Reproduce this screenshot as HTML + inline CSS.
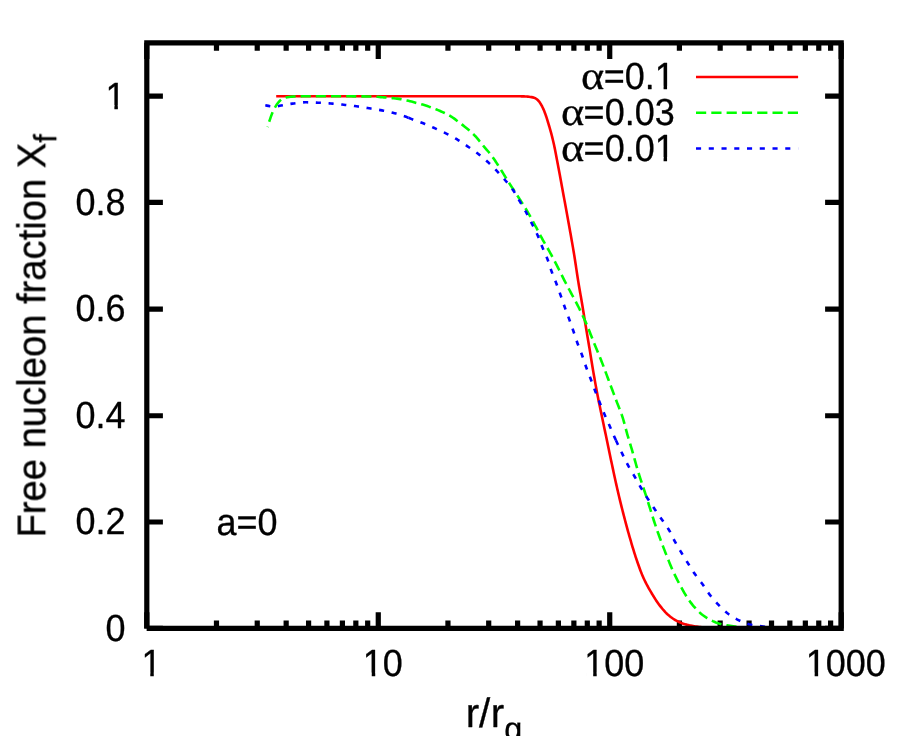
<!DOCTYPE html>
<html><head><meta charset="utf-8"><title>Free nucleon fraction</title>
<style>html,body{margin:0;padding:0;background:#fff;overflow:hidden}svg{display:block}text{font-family:"Liberation Sans",sans-serif;fill:#000}</style>
</head><body>
<svg width="900" height="736" viewBox="0 0 900 736">
<rect width="900" height="736" fill="#fff"/>
<g stroke="#000" stroke-width="5.2" stroke-linecap="butt" fill="none">
<path d="M146.80,628.40h16.1M841.20,628.40h-16.1"/>
<path d="M146.80,522.00h16.1M841.20,522.00h-16.1"/>
<path d="M146.80,415.75h16.1M841.20,415.75h-16.1"/>
<path d="M146.80,309.10h16.1M841.20,309.10h-16.1"/>
<path d="M146.80,202.30h16.1M841.20,202.30h-16.1"/>
<path d="M146.80,96.20h16.1M841.20,96.20h-16.1"/>
<path d="M146.80,628.40v-16.1M146.80,42.85v16.1"/>
<path d="M216.48,628.40v-8.0M216.48,42.85v8.0"/>
<path d="M257.24,628.40v-8.0M257.24,42.85v8.0"/>
<path d="M286.16,628.40v-8.0M286.16,42.85v8.0"/>
<path d="M308.59,628.40v-8.0M308.59,42.85v8.0"/>
<path d="M326.92,628.40v-8.0M326.92,42.85v8.0"/>
<path d="M342.41,628.40v-8.0M342.41,42.85v8.0"/>
<path d="M355.84,628.40v-8.0M355.84,42.85v8.0"/>
<path d="M367.68,628.40v-8.0M367.68,42.85v8.0"/>
<path d="M378.27,628.40v-16.1M378.27,42.85v16.1"/>
<path d="M447.95,628.40v-8.0M447.95,42.85v8.0"/>
<path d="M488.70,628.40v-8.0M488.70,42.85v8.0"/>
<path d="M517.62,628.40v-8.0M517.62,42.85v8.0"/>
<path d="M540.05,628.40v-8.0M540.05,42.85v8.0"/>
<path d="M558.38,628.40v-8.0M558.38,42.85v8.0"/>
<path d="M573.88,628.40v-8.0M573.88,42.85v8.0"/>
<path d="M587.30,628.40v-8.0M587.30,42.85v8.0"/>
<path d="M599.14,628.40v-8.0M599.14,42.85v8.0"/>
<path d="M609.73,628.40v-16.1M609.73,42.85v16.1"/>
<path d="M679.41,628.40v-8.0M679.41,42.85v8.0"/>
<path d="M720.17,628.40v-8.0M720.17,42.85v8.0"/>
<path d="M749.09,628.40v-8.0M749.09,42.85v8.0"/>
<path d="M771.52,628.40v-8.0M771.52,42.85v8.0"/>
<path d="M789.85,628.40v-8.0M789.85,42.85v8.0"/>
<path d="M805.35,628.40v-8.0M805.35,42.85v8.0"/>
<path d="M818.77,628.40v-8.0M818.77,42.85v8.0"/>
<path d="M830.61,628.40v-8.0M830.61,42.85v8.0"/>
<path d="M841.20,628.40v-16.1M841.20,42.85v16.1"/>
</g>
<g fill="none" stroke-width="2.6" stroke-linejoin="round">
<path stroke="#ff0000" d="M276.20,96.20 L500.00,96.20 L500.00,96.20 L501.26,96.20 L502.53,96.20 L503.79,96.20 L505.06,96.20 L506.32,96.20 L507.58,96.21 L508.85,96.21 L510.11,96.22 L511.37,96.23 L512.64,96.23 L513.90,96.24 L515.17,96.25 L516.43,96.26 L517.69,96.27 L518.96,96.29 L520.22,96.30 L521.48,96.33 L522.75,96.36 L524.01,96.41 L525.27,96.46 L526.53,96.53 L527.79,96.64 L529.05,96.78 L530.30,96.94 L531.54,97.13 L532.78,97.38 L534.01,97.71 L535.09,98.13 L536.13,98.76 L537.17,99.57 L538.20,100.50 L538.94,101.30 L539.64,102.25 L540.35,103.35 L541.06,104.54 L541.72,105.71 L542.24,106.70 L542.76,107.76 L543.28,108.89 L543.80,110.09 L544.32,111.34 L544.84,112.65 L545.25,113.73 L545.64,114.83 L546.03,115.99 L546.43,117.20 L546.82,118.44 L547.21,119.70 L547.60,120.98 L548.00,122.26 L548.36,123.44 L548.71,124.59 L549.06,125.75 L549.41,126.92 L549.76,128.11 L550.11,129.33 L550.47,130.57 L550.82,131.83 L551.17,133.13 L551.50,134.38 L551.79,135.51 L552.08,136.65 L552.37,137.82 L552.66,139.02 L552.95,140.23 L553.25,141.47 L553.54,142.74 L553.83,144.02 L554.12,145.34 L554.41,146.68 L554.66,147.88 L554.90,149.05 L555.14,150.25 L555.38,151.48 L555.62,152.74 L555.86,154.01 L556.10,155.29 L556.34,156.57 L556.57,157.85 L556.81,159.12 L557.05,160.37 L557.29,161.60 L557.52,162.83 L557.76,164.07 L558.00,165.30 L558.23,166.54 L558.47,167.77 L558.71,169.01 L558.94,170.26 L559.18,171.50 L559.42,172.75 L559.65,174.01 L559.89,175.26 L560.11,176.48 L560.34,177.72 L560.57,178.95 L560.80,180.20 L561.03,181.44 L561.26,182.69 L561.48,183.94 L561.71,185.19 L561.94,186.44 L562.17,187.69 L562.40,188.94 L562.62,190.18 L562.85,191.42 L563.08,192.66 L563.31,193.90 L563.53,195.15 L563.76,196.39 L563.99,197.63 L564.22,198.87 L564.44,200.12 L564.67,201.36 L564.90,202.61 L565.13,203.85 L565.35,205.10 L565.58,206.34 L565.81,207.59 L566.03,208.82 L566.26,210.06 L566.49,211.29 L566.71,212.53 L566.94,213.76 L567.16,214.99 L567.39,216.23 L567.62,217.46 L567.84,218.70 L568.07,219.94 L568.29,221.18 L568.52,222.43 L568.75,223.68 L568.97,224.93 L569.20,226.19 L569.42,227.45 L569.65,228.72 L569.87,229.95 L570.08,231.16 L570.30,232.37 L570.51,233.58 L570.73,234.80 L570.95,236.02 L571.16,237.23 L571.38,238.45 L571.59,239.68 L571.81,240.91 L572.02,242.14 L572.24,243.38 L572.45,244.62 L572.67,245.88 L572.89,247.13 L573.10,248.40 L573.32,249.67 L573.53,250.96 L573.75,252.25 L573.96,253.55 L574.18,254.87 L574.37,256.07 L574.56,257.27 L574.76,258.49 L574.95,259.72 L575.14,260.97 L575.33,262.23 L575.52,263.49 L575.72,264.77 L575.91,266.05 L576.10,267.33 L576.29,268.61 L576.48,269.90 L576.67,271.18 L576.87,272.46 L577.06,273.73 L577.25,275.00 L577.44,276.25 L577.63,277.50 L577.83,278.73 L578.02,279.94 L578.21,281.14 L578.41,282.39 L578.63,283.69 L578.84,284.97 L579.05,286.23 L579.27,287.48 L579.48,288.73 L579.70,289.96 L579.91,291.19 L580.12,292.41 L580.34,293.63 L580.55,294.85 L580.76,296.07 L580.98,297.29 L581.19,298.51 L581.41,299.74 L581.62,300.98 L581.83,302.23 L582.05,303.49 L582.26,304.77 L582.47,306.00 L582.67,307.23 L582.87,308.47 L583.07,309.72 L583.27,310.97 L583.47,312.23 L583.68,313.49 L583.88,314.75 L584.08,316.01 L584.28,317.27 L584.48,318.52 L584.68,319.77 L584.89,321.01 L585.09,322.25 L585.30,323.52 L585.51,324.78 L585.72,326.03 L585.93,327.28 L586.14,328.53 L586.35,329.78 L586.56,331.02 L586.77,332.25 L586.98,333.49 L587.18,334.73 L587.39,335.96 L587.60,337.20 L587.81,338.44 L588.02,339.68 L588.23,340.92 L588.44,342.16 L588.65,343.41 L588.86,344.66 L589.07,345.91 L589.28,347.16 L589.48,348.40 L589.69,349.65 L589.89,350.90 L590.10,352.16 L590.30,353.42 L590.50,354.69 L590.71,355.96 L590.91,357.22 L591.12,358.49 L591.32,359.76 L591.53,361.02 L591.73,362.28 L591.94,363.53 L592.14,364.78 L592.34,366.03 L592.55,367.26 L592.75,368.48 L592.96,369.70 L593.16,370.90 L593.37,372.13 L593.60,373.43 L593.82,374.72 L594.05,376.01 L594.27,377.30 L594.50,378.58 L594.72,379.85 L594.94,381.12 L595.17,382.38 L595.39,383.63 L595.62,384.88 L595.84,386.12 L596.06,387.35 L596.29,388.57 L596.51,389.78 L596.74,390.98 L596.96,392.17 L597.19,393.36 L597.41,394.53 L597.65,395.78 L597.91,397.08 L598.16,398.36 L598.41,399.63 L598.67,400.89 L598.92,402.13 L599.18,403.37 L599.43,404.59 L599.68,405.81 L599.94,407.03 L600.19,408.24 L600.45,409.45 L600.70,410.66 L600.95,411.88 L601.21,413.09 L601.46,414.31 L601.72,415.56 L601.98,416.80 L602.24,418.05 L602.50,419.29 L602.76,420.52 L603.02,421.76 L603.28,422.99 L603.54,424.23 L603.80,425.46 L604.05,426.69 L604.31,427.92 L604.57,429.16 L604.83,430.39 L605.09,431.62 L605.35,432.86 L605.61,434.10 L605.87,435.34 L606.13,436.57 L606.39,437.81 L606.64,439.05 L606.90,440.30 L607.16,441.54 L607.42,442.79 L607.68,444.04 L607.93,445.28 L608.19,446.53 L608.45,447.78 L608.71,449.03 L608.97,450.27 L609.22,451.52 L609.48,452.76 L609.74,454.00 L610.00,455.24 L610.26,456.47 L610.51,457.70 L610.77,458.93 L611.03,460.15 L611.29,461.36 L611.54,462.57 L611.81,463.81 L612.08,465.07 L612.35,466.34 L612.62,467.61 L612.89,468.88 L613.17,470.15 L613.44,471.41 L613.71,472.68 L613.98,473.94 L614.25,475.20 L614.52,476.45 L614.80,477.70 L615.07,478.95 L615.34,480.19 L615.61,481.43 L615.88,482.66 L616.15,483.89 L616.42,485.10 L616.70,486.32 L616.97,487.52 L617.24,488.71 L617.51,489.90 L617.78,491.08 L618.05,492.25 L618.33,493.42 L618.64,494.72 L618.94,496.02 L619.25,497.30 L619.56,498.58 L619.87,499.85 L620.17,501.11 L620.48,502.37 L620.79,503.62 L621.10,504.86 L621.40,506.09 L621.71,507.32 L622.02,508.54 L622.33,509.76 L622.63,510.97 L622.94,512.17 L623.25,513.37 L623.56,514.57 L623.86,515.75 L624.17,516.94 L624.48,518.12 L624.79,519.29 L625.09,520.46 L625.40,521.63 L625.73,522.86 L626.06,524.13 L626.40,525.38 L626.74,526.63 L627.07,527.88 L627.41,529.11 L627.75,530.33 L628.08,531.55 L628.42,532.76 L628.76,533.96 L629.09,535.14 L629.43,536.32 L629.76,537.49 L630.11,538.68 L630.48,539.96 L630.86,541.23 L631.23,542.50 L631.60,543.77 L631.98,545.02 L632.35,546.27 L632.72,547.51 L633.09,548.74 L633.47,549.97 L633.84,551.18 L634.21,552.38 L634.59,553.56 L634.96,554.73 L635.33,555.89 L635.70,557.03 L636.08,558.16 L636.45,559.27 L636.85,560.43 L637.29,561.72 L637.74,563.01 L638.18,564.29 L638.63,565.55 L639.08,566.80 L639.52,568.03 L639.97,569.24 L640.41,570.44 L640.86,571.60 L641.31,572.75 L641.75,573.87 L642.20,574.95 L642.64,576.01 L643.09,577.03 L643.61,578.19 L644.21,579.47 L644.80,580.71 L645.39,581.92 L645.99,583.09 L646.58,584.24 L647.17,585.36 L647.77,586.46 L648.36,587.54 L648.95,588.60 L649.55,589.64 L650.14,590.66 L650.73,591.67 L651.33,592.68 L651.96,593.73 L652.66,594.89 L653.36,596.03 L654.06,597.16 L654.76,598.27 L655.46,599.36 L656.15,600.42 L656.85,601.46 L657.55,602.48 L658.25,603.46 L658.95,604.42 L659.65,605.35 L660.42,606.34 L661.27,607.40 L662.12,608.45 L662.96,609.46 L663.81,610.45 L664.66,611.41 L665.50,612.32 L666.35,613.19 L667.20,614.01 L668.04,614.78 L669.02,615.61 L670.06,616.45 L671.10,617.25 L672.14,618.00 L673.18,618.72 L674.22,619.39 L675.26,620.01 L676.30,620.59 L677.42,621.17 L678.59,621.74 L679.76,622.27 L680.93,622.78 L682.10,623.24 L683.27,623.66 L684.44,624.04 L685.64,624.38 L686.88,624.70 L688.12,625.00 L689.36,625.29 L690.60,625.55 L691.83,625.80 L693.07,626.03 L694.31,626.24 L695.55,626.43 L696.79,626.61 L698.04,626.78 L699.30,626.95 L700.56,627.10 L701.81,627.25 L703.07,627.37 L704.33,627.48 L705.58,627.57 L706.84,627.65 L708.11,627.72 L709.37,627.79 L710.63,627.86 L711.90,627.92 L713.16,627.98 L714.42,628.03 L715.69,628.08 L716.95,628.12 L718.21,628.15 L719.47,628.18 L720.74,628.19 L722.00,628.20"/>
<path stroke="#00ff00" stroke-dasharray="10.11 5.05" stroke-dashoffset="9.61" d="M267.50,127.00 L268.00,125.39 L268.50,123.82 L269.00,122.29 L269.53,120.71 L270.09,119.06 L270.64,117.43 L271.20,115.86 L271.75,114.36 L272.30,112.97 L272.97,111.45 L273.70,109.92 L274.44,108.52 L275.20,107.14 L276.07,105.64 L276.94,104.27 L277.90,102.99 L279.02,101.65 L280.15,100.52 L281.42,99.58 L282.88,98.68 L284.35,97.96 L285.82,97.50 L287.44,97.21 L289.06,97.00 L290.69,96.82 L292.32,96.64 L293.96,96.49 L295.59,96.40 L297.23,96.38 L298.87,96.35 L300.51,96.33 L302.15,96.32 L303.78,96.31 L305.42,96.30 L307.06,96.30 L308.70,96.30 L310.34,96.30 L311.98,96.30 L313.62,96.30 L315.26,96.30 L316.90,96.30 L318.54,96.30 L320.18,96.30 L321.82,96.30 L323.46,96.30 L325.10,96.30 L326.73,96.30 L328.37,96.30 L330.01,96.30 L331.65,96.30 L333.29,96.30 L334.93,96.30 L336.57,96.30 L338.21,96.30 L339.85,96.30 L341.49,96.30 L343.13,96.30 L344.77,96.30 L346.41,96.31 L348.05,96.31 L349.68,96.32 L351.32,96.32 L352.96,96.33 L354.60,96.34 L356.24,96.35 L357.88,96.36 L359.52,96.37 L361.16,96.39 L362.80,96.40 L364.44,96.42 L366.08,96.43 L367.72,96.45 L369.36,96.47 L371.00,96.49 L372.63,96.52 L374.27,96.59 L375.90,96.68 L377.54,96.80 L379.17,96.94 L380.81,97.09 L382.44,97.23 L384.08,97.36 L385.71,97.50 L387.34,97.63 L388.97,97.78 L390.60,97.93 L392.23,98.09 L393.87,98.26 L395.50,98.44 L397.13,98.64 L398.75,98.86 L400.36,99.12 L401.97,99.42 L403.57,99.74 L405.18,100.09 L406.79,100.46 L408.40,100.82 L409.98,101.20 L411.57,101.61 L413.15,102.03 L414.74,102.47 L416.32,102.90 L417.91,103.32 L419.49,103.74 L421.07,104.16 L422.65,104.60 L424.22,105.06 L425.79,105.55 L427.33,106.07 L428.87,106.63 L430.41,107.20 L431.95,107.78 L433.49,108.37 L435.01,108.96 L436.53,109.55 L438.05,110.15 L439.57,110.78 L441.09,111.43 L442.58,112.09 L444.05,112.76 L445.52,113.45 L446.99,114.17 L448.46,114.94 L449.93,115.76 L451.27,116.58 L452.61,117.48 L453.94,118.43 L455.28,119.42 L456.61,120.43 L457.95,121.44 L459.25,122.41 L460.54,123.39 L461.83,124.38 L463.12,125.39 L464.41,126.41 L465.70,127.46 L466.97,128.53 L468.19,129.55 L469.40,130.59 L470.62,131.65 L471.83,132.74 L473.05,133.87 L474.27,135.06 L475.42,136.24 L476.46,137.39 L477.51,138.62 L478.56,139.89 L479.60,141.20 L480.65,142.52 L481.70,143.83 L482.75,145.13 L483.80,146.39 L484.85,147.62 L485.90,148.83 L486.96,150.04 L488.01,151.26 L489.07,152.50 L490.12,153.78 L491.18,155.11 L492.16,156.41 L493.06,157.68 L493.97,158.98 L494.88,160.33 L495.78,161.71 L496.69,163.11 L497.60,164.53 L498.50,165.96 L499.41,167.38 L500.30,168.77 L501.17,170.14 L502.03,171.53 L502.89,172.93 L503.76,174.34 L504.62,175.76 L505.48,177.17 L506.34,178.57 L507.21,179.97 L508.07,181.34 L508.96,182.73 L509.86,184.12 L510.75,185.49 L511.65,186.85 L512.55,188.21 L513.45,189.57 L514.34,190.93 L515.24,192.29 L516.14,193.67 L517.04,195.05 L517.91,196.41 L518.78,197.76 L519.65,199.12 L520.53,200.47 L521.40,201.83 L522.27,203.20 L523.14,204.58 L524.02,205.97 L524.89,207.37 L525.76,208.80 L526.63,210.24 L527.51,211.71 L528.30,213.07 L529.09,214.45 L529.89,215.86 L530.68,217.29 L531.47,218.73 L532.27,220.18 L533.06,221.64 L533.85,223.10 L534.65,224.57 L535.44,226.04 L536.22,227.48 L536.99,228.92 L537.76,230.38 L538.53,231.84 L539.30,233.31 L540.07,234.78 L540.84,236.24 L541.61,237.69 L542.38,239.12 L543.15,240.53 L543.96,241.98 L544.77,243.41 L545.59,244.82 L546.40,246.22 L547.22,247.61 L548.03,249.02 L548.84,250.44 L549.66,251.89 L550.45,253.31 L551.21,254.72 L551.98,256.14 L552.74,257.58 L553.51,259.02 L554.27,260.48 L555.04,261.95 L555.80,263.42 L556.57,264.90 L557.34,266.38 L558.08,267.83 L558.82,269.28 L559.55,270.75 L560.29,272.23 L561.03,273.71 L561.77,275.19 L562.50,276.66 L563.24,278.13 L563.98,279.57 L564.74,281.04 L565.50,282.51 L566.27,283.97 L567.03,285.42 L567.80,286.87 L568.56,288.31 L569.33,289.75 L570.10,291.19 L570.86,292.62 L571.63,294.06 L572.40,295.51 L573.17,296.93 L573.94,298.35 L574.71,299.77 L575.49,301.20 L576.26,302.64 L577.03,304.11 L577.80,305.61 L578.52,307.04 L579.22,308.44 L579.92,309.86 L580.62,311.30 L581.32,312.75 L582.03,314.22 L582.73,315.71 L583.43,317.22 L584.13,318.75 L584.83,320.31 L585.53,321.88 L586.18,323.36 L586.79,324.80 L587.40,326.27 L588.02,327.76 L588.63,329.27 L589.24,330.80 L589.86,332.35 L590.47,333.90 L591.09,335.46 L591.70,337.02 L592.31,338.58 L592.93,340.13 L593.54,341.67 L594.16,343.19 L594.77,344.71 L595.39,346.22 L596.01,347.72 L596.63,349.22 L597.25,350.72 L597.87,352.22 L598.49,353.72 L599.11,355.23 L599.72,356.75 L600.34,358.28 L600.96,359.83 L601.58,361.40 L602.16,362.89 L602.74,364.39 L603.32,365.90 L603.89,367.42 L604.47,368.96 L605.04,370.50 L605.62,372.05 L606.19,373.60 L606.77,375.16 L607.34,376.71 L607.92,378.27 L608.50,379.82 L609.07,381.36 L609.65,382.89 L610.22,384.43 L610.80,385.97 L611.37,387.50 L611.95,389.04 L612.53,390.58 L613.10,392.12 L613.68,393.65 L614.25,395.19 L614.83,396.72 L615.40,398.26 L615.98,399.79 L616.55,401.31 L617.13,402.84 L617.72,404.33 L618.30,405.79 L618.88,407.24 L619.46,408.70 L620.04,410.18 L620.62,411.69 L621.20,413.25 L621.54,414.20"/>
<path stroke="#00ff00" stroke-dasharray="10.20 5.10" d="M621.54,414.20 L621.78,414.88 L622.36,416.59 L622.84,418.05 L623.27,419.50 L623.71,421.02 L624.15,422.59 L624.59,424.21 L625.03,425.86 L625.47,427.52 L625.91,429.18 L626.35,430.83 L626.78,432.45 L627.22,434.03 L627.67,435.60 L628.14,437.20 L628.61,438.78 L629.08,440.34 L629.55,441.89 L630.02,443.44 L630.49,444.98 L630.97,446.53 L631.44,448.09 L631.91,449.67 L632.38,451.27 L632.83,452.83 L633.27,454.40 L633.71,455.99 L634.15,457.59 L634.59,459.20 L635.04,460.81 L635.48,462.41 L635.92,463.99 L636.36,465.54 L636.81,467.08 L637.30,468.71 L637.78,470.32 L638.26,471.90 L638.74,473.47 L639.23,475.03 L639.71,476.57 L640.19,478.10 L640.68,479.61 L641.19,481.19 L641.70,482.77 L642.22,484.33 L642.74,485.87 L643.26,487.40 L643.78,488.93 L644.30,490.46 L644.81,492.01 L645.33,493.57 L645.85,495.15 L646.34,496.68 L646.84,498.23 L647.33,499.79 L647.82,501.36 L648.32,502.94 L648.81,504.52 L649.30,506.09 L649.80,507.66 L650.29,509.23 L650.79,510.80 L651.28,512.39 L651.78,513.97 L652.27,515.56 L652.77,517.13 L653.26,518.69 L653.76,520.24 L654.25,521.76 L654.77,523.31 L655.31,524.92 L655.85,526.52 L656.39,528.09 L656.93,529.66 L657.47,531.21 L658.00,532.74 L658.54,534.26 L659.08,535.77 L659.62,537.26 L660.17,538.78 L660.76,540.37 L661.35,541.95 L661.93,543.52 L662.52,545.07 L663.11,546.61 L663.69,548.13 L664.28,549.65 L664.86,551.15 L665.45,552.65 L666.04,554.13 L666.62,555.60 L667.24,557.17 L667.87,558.74 L668.50,560.32 L669.13,561.88 L669.76,563.43 L670.39,564.96 L671.02,566.47 L671.64,567.96 L672.27,569.41 L672.90,570.82 L673.57,572.28 L674.31,573.85 L675.04,575.39 L675.78,576.89 L676.52,578.36 L677.26,579.80 L677.99,581.22 L678.73,582.63 L679.47,584.01 L680.23,585.42 L681.04,586.93 L681.86,588.43 L682.67,589.91 L683.49,591.36 L684.30,592.78 L685.12,594.16 L685.93,595.49 L686.75,596.78 L687.72,598.25 L688.68,599.67 L689.64,601.06 L690.60,602.39 L691.57,603.66 L692.53,604.88 L693.53,606.07 L694.69,607.39 L695.85,608.66 L697.01,609.89 L698.17,611.05 L699.33,612.15 L700.48,613.19 L701.64,614.16 L703.00,615.21 L704.37,616.21 L705.73,617.16 L707.10,618.04 L708.47,618.86 L709.83,619.61 L711.32,620.38 L712.82,621.12 L714.33,621.80 L715.83,622.43 L717.34,622.99 L718.87,623.47 L720.47,623.92 L722.06,624.33 L723.66,624.70 L725.25,625.03 L726.85,625.33 L728.47,625.60 L730.10,625.85 L731.72,626.07 L733.34,626.29 L734.97,626.49 L736.59,626.69 L738.22,626.88 L739.85,627.07 L741.48,627.25 L743.11,627.43 L744.74,627.59 L746.37,627.75 L748.00,627.90"/>
<path stroke="#0000ff" stroke-dasharray="5.10 7.65" d="M265.30,105.30 L266.88,105.60 L268.47,105.89 L270.05,106.20 L271.64,106.46 L273.24,106.61 L274.85,106.70 L276.44,106.57 L278.02,106.23 L279.60,105.84 L281.19,105.54 L282.77,105.25 L284.36,104.95 L285.95,104.66 L287.54,104.38 L289.13,104.11 L290.71,103.86 L292.30,103.63 L293.90,103.43 L295.50,103.22 L297.10,103.01 L298.71,102.81 L300.31,102.63 L301.91,102.47 L303.52,102.36 L305.12,102.31 L306.73,102.30 L308.34,102.33 L309.95,102.36 L311.56,102.42 L313.17,102.48 L314.77,102.54 L316.38,102.62 L317.99,102.69 L319.60,102.76 L321.21,102.84 L322.82,102.94 L324.42,103.04 L326.03,103.15 L327.64,103.26 L329.25,103.38 L330.85,103.50 L332.46,103.63 L334.06,103.77 L335.66,103.92 L337.27,104.08 L338.87,104.24 L340.47,104.40 L342.07,104.57 L343.68,104.74 L345.28,104.92 L346.88,105.09 L348.48,105.27 L350.08,105.46 L351.67,105.65 L353.27,105.85 L354.87,106.06 L356.47,106.27 L358.06,106.49 L359.65,106.73 L361.24,106.98 L362.83,107.24 L364.43,107.51 L366.02,107.77 L367.61,108.04 L369.20,108.30 L370.79,108.55 L372.37,108.81 L373.96,109.05 L375.55,109.31 L377.14,109.56 L378.73,109.83 L380.32,110.10 L381.91,110.39 L383.49,110.69 L385.06,111.00 L386.63,111.33 L388.20,111.67 L389.77,112.02 L391.34,112.38 L392.92,112.77 L394.49,113.17 L396.04,113.58 L397.57,114.02 L399.11,114.48 L400.65,114.97 L402.19,115.48 L403.72,116.00 L405.24,116.53 L406.74,117.09 L408.24,117.69 L408.50,117.79"/>
<path stroke="#0000ff" stroke-dasharray="5.10 7.65" d="M408.50,117.79 L409.74,118.29 L411.24,118.90 L412.74,119.49 L414.25,120.05 L415.77,120.59 L417.29,121.12 L418.80,121.65 L420.32,122.19 L421.84,122.75 L423.33,123.33 L424.81,123.93 L426.29,124.54 L427.77,125.17 L429.26,125.82 L430.74,126.47 L432.22,127.12 L433.70,127.78 L435.17,128.43 L436.63,129.07 L438.10,129.72 L439.56,130.38 L441.03,131.04 L442.49,131.71 L443.96,132.40 L445.42,133.11 L446.85,133.83 L448.27,134.55 L449.69,135.28 L451.10,136.04 L452.52,136.81 L453.93,137.60 L455.35,138.41 L456.76,139.24 L458.11,140.06 L459.46,140.90 L460.80,141.78 L462.15,142.67 L463.49,143.57 L464.84,144.49 L466.18,145.41 L467.53,146.32 L468.85,147.21 L470.17,148.10 L471.49,149.00 L472.81,149.91 L474.13,150.83 L475.45,151.77 L476.77,152.75 L478.05,153.72 L479.28,154.69 L480.51,155.68 L481.75,156.69 L482.98,157.72 L484.21,158.78 L485.45,159.86 L486.68,160.96 L487.88,162.05 L489.03,163.12 L490.17,164.21 L491.32,165.32 L492.46,166.46 L493.61,167.61 L494.75,168.78 L495.90,169.96 L497.02,171.14 L498.10,172.28 L499.18,173.44 L500.26,174.62 L501.34,175.81 L502.42,177.02 L503.50,178.25 L504.58,179.50 L505.61,180.72 L506.62,181.90 L507.62,183.08 L508.63,184.29 L509.64,185.52 L510.64,186.80 L511.65,188.12 L512.65,189.51 L513.54,190.80 L514.37,192.07 L515.20,193.41 L516.02,194.80 L516.85,196.23 L517.68,197.67 L518.50,199.12 L519.33,200.55 L520.15,201.96 L520.96,203.33 L521.77,204.69 L522.58,206.05 L523.39,207.43 L524.19,208.83 L525.00,210.26 L525.81,211.72 L526.54,213.08 L527.27,214.48 L528.00,215.90 L528.73,217.35 L529.46,218.81 L530.19,220.27 L530.92,221.74 L531.65,223.20 L532.37,224.62 L533.08,226.01 L533.80,227.40 L534.51,228.80 L535.23,230.22 L535.94,231.67 L536.66,233.17 L537.37,234.72 L537.99,236.13 L538.59,237.57 L539.19,239.06 L539.79,240.59 L540.39,242.14 L540.98,243.69 L541.58,245.22 L542.18,246.72 L542.80,248.21 L543.43,249.68 L544.06,251.11 L544.69,252.53 L545.33,253.95 L545.96,255.41 L546.59,256.91 L547.23,258.49 L547.79,259.98 L548.30,261.44 L548.82,262.97 L549.33,264.55 L549.84,266.15 L550.36,267.75 L550.87,269.31 L551.38,270.81 L551.92,272.31 L552.52,273.87 L553.11,275.37 L553.71,276.83 L554.30,278.28 L554.89,279.73 L555.49,281.21 L556.08,282.73 L556.64,284.22 L557.19,285.69 L557.74,287.18 L558.28,288.69 L558.83,290.22 L559.37,291.75 L559.92,293.30 L560.46,294.84 L561.00,296.37 L561.53,297.89 L562.05,299.42 L562.58,300.96 L563.11,302.50 L563.63,304.03 L564.16,305.54 L564.70,307.05 L565.26,308.59 L565.82,310.10 L566.37,311.60 L566.93,313.09 L567.49,314.58 L568.05,316.07 L568.61,317.58 L569.17,319.11 L569.71,320.61 L570.24,322.10 L570.78,323.61 L571.32,325.12 L571.85,326.64 L572.39,328.18 L572.93,329.72 L573.46,331.26 L573.97,332.78 L574.48,334.32 L575.00,335.88 L575.51,337.45 L576.02,339.00 L576.53,340.53 L577.05,342.02 L577.57,343.49 L578.15,345.05 L578.72,346.56 L579.30,348.04 L579.88,349.50 L580.46,350.96 L581.04,352.44 L581.62,353.96 L582.18,355.49 L582.70,356.97 L583.22,358.50 L583.75,360.05 L584.27,361.61 L584.80,363.17 L585.32,364.71 L585.84,366.22 L586.37,367.70 L586.95,369.26 L587.53,370.78 L588.11,372.28 L588.69,373.76 L589.26,375.23 L589.84,376.71 L590.42,378.21 L590.99,379.71 L591.55,381.21 L592.12,382.73 L592.68,384.25 L593.24,385.78 L593.80,387.30 L594.36,388.81 L594.92,390.31 L595.49,391.81 L596.08,393.33 L596.67,394.85 L597.26,396.36 L597.84,397.86 L598.43,399.35 L599.02,400.83 L599.60,402.31 L600.20,403.80 L600.81,405.32 L601.41,406.84 L602.02,408.35 L602.63,409.85 L603.24,411.33 L603.84,412.80 L604.45,414.25 L605.09,415.75 L605.75,417.25 L606.41,418.72 L607.06,420.18 L607.72,421.63 L608.38,423.08 L609.03,424.53 L609.69,426.00 L610.34,427.47 L610.98,428.95 L611.63,430.43 L612.27,431.93 L612.91,433.43 L613.56,434.92 L614.20,436.40 L614.84,437.87 L615.49,439.31 L615.89,440.20"/>
<path stroke="#0000ff" stroke-dasharray="5.10 7.65" d="M615.89,440.20 L616.16,440.78 L616.84,442.28 L617.53,443.77 L618.22,445.24 L618.90,446.70 L619.59,448.16 L620.28,449.60 L620.97,451.03 L621.65,452.45 L622.34,453.87 L623.05,455.34 L623.77,456.82 L624.49,458.31 L625.21,459.78 L625.93,461.23 L626.65,462.66 L627.37,464.06 L628.10,465.42 L628.88,466.86 L629.70,468.29 L630.51,469.69 L631.33,471.05 L632.15,472.40 L632.96,473.76 L633.78,475.12 L634.59,476.51 L635.39,477.90 L636.18,479.31 L636.97,480.73 L637.76,482.16 L638.56,483.58 L639.35,484.99 L640.14,486.37 L640.94,487.74 L641.79,489.16 L642.64,490.56 L643.49,491.94 L644.34,493.31 L645.19,494.66 L646.04,496.00 L646.88,497.34 L647.74,498.68 L648.63,500.06 L649.52,501.42 L650.41,502.78 L651.29,504.12 L652.18,505.46 L653.07,506.78 L653.96,508.10 L654.85,509.42 L655.77,510.77 L656.69,512.10 L657.61,513.41 L658.53,514.73 L659.44,516.04 L660.36,517.35 L661.28,518.67 L662.20,520.00 L663.11,521.30 L664.01,522.57 L664.92,523.84 L665.82,525.13 L666.73,526.44 L667.63,527.80 L668.54,529.24 L669.36,530.62 L670.10,531.96 L670.83,533.38 L671.57,534.86 L672.30,536.36 L673.04,537.87 L673.77,539.35 L674.51,540.78 L675.27,542.18 L676.08,543.64 L676.89,545.06 L677.70,546.46 L678.51,547.84 L679.32,549.21 L680.14,550.56 L680.95,551.91 L681.78,553.29 L682.63,554.69 L683.48,556.07 L684.33,557.45 L685.18,558.81 L686.02,560.16 L686.87,561.51 L687.72,562.86 L688.59,564.23 L689.46,565.62 L690.33,567.01 L691.20,568.40 L692.07,569.77 L692.94,571.12 L693.81,572.45 L694.68,573.73 L695.61,575.06 L696.58,576.39 L697.54,577.68 L698.51,578.94 L699.48,580.19 L700.44,581.44 L701.41,582.72 L702.37,584.03 L703.30,585.33 L704.22,586.66 L705.14,588.02 L706.06,589.40 L706.97,590.76 L707.89,592.10 L708.81,593.40 L709.73,594.65 L710.74,595.95 L711.79,597.26 L712.83,598.54 L713.88,599.79 L714.93,601.01 L715.97,602.19 L717.02,603.34 L718.07,604.46 L719.22,605.65 L720.39,606.86 L721.57,608.04 L722.75,609.19 L723.92,610.29 L725.10,611.35 L726.28,612.34 L727.45,613.26 L728.81,614.27 L730.18,615.23 L731.55,616.15 L732.92,617.03 L734.29,617.86 L735.66,618.64 L737.03,619.37 L738.40,620.05 L739.91,620.76 L741.41,621.45 L742.91,622.11 L744.42,622.72 L745.92,623.29 L747.42,623.80 L748.93,624.24 L750.45,624.60 L752.05,624.93 L753.64,625.22 L755.23,625.48 L756.82,625.72 L758.41,625.95 L760.00,626.16 L761.59,626.36 L763.19,626.56 L764.79,626.76 L766.39,626.95 L767.99,627.13 L769.59,627.31 L771.19,627.47 L772.80,627.62 L774.40,627.77 L776.00,627.90"/>
</g>
<g fill="none" stroke-width="2.6">
<path stroke="#ff0000" d="M696.0,77.0H798.1"/>
<path stroke="#00ff00" stroke-dasharray="10.20 5.10" d="M696.0,112.75H798.1"/>
<path stroke="#0000ff" stroke-dasharray="5.10 7.65" d="M696.0,148.5H798.1"/>
</g>
<path d="M146.80,628.40H841.20V42.85H146.80V628.40" fill="none" stroke="#000" stroke-width="5.2" stroke-linejoin="miter" stroke-linecap="butt"/>
<g opacity="0.999" text-rendering="geometricPrecision" stroke="#000" stroke-width="0.3" stroke-linejoin="round">
<text transform="translate(105.48,640.70) scale(1,1.05)" font-size="36">0</text>
<text transform="translate(75.46,534.30) scale(1,1.05)" font-size="36">0.2</text>
<text transform="translate(75.46,428.05) scale(1,1.05)" font-size="36">0.4</text>
<text transform="translate(75.46,321.40) scale(1,1.05)" font-size="36">0.6</text>
<text transform="translate(75.46,214.60) scale(1,1.05)" font-size="36">0.8</text>
<text transform="translate(105.48,108.50) scale(1,1.05)" font-size="36">1</text>
<text transform="translate(141.39,676.10) scale(1,1.05)" font-size="36">1</text>
<text transform="translate(362.85,676.10) scale(1,1.05)" font-size="36">10</text>
<text transform="translate(584.30,676.10) scale(1,1.05)" font-size="36">100</text>
<text transform="translate(805.76,676.10) scale(1,1.05)" font-size="36">1000</text>
<text transform="translate(216.50,534.80) scale(1,1.05)" font-size="36">a=0</text>
<text transform="translate(581.0,89.3) scale(1.11,0.99)" font-size="40" style="font-family:'Liberation Serif',serif">α</text>
<text transform="translate(603.63,89.30) scale(1,1.05)" font-size="36">=0.1</text>
<text transform="translate(560.9,125.0) scale(1.11,0.99)" font-size="40" style="font-family:'Liberation Serif',serif">α</text>
<text transform="translate(583.61,125.00) scale(1,1.05)" font-size="36">=0.03</text>
<text transform="translate(560.9,160.6) scale(1.11,0.99)" font-size="40" style="font-family:'Liberation Serif',serif">α</text>
<text transform="translate(583.61,160.60) scale(1,1.05)" font-size="36">=0.01</text>
<text transform="translate(465.7,727.4) scale(1,1.012)" font-size="40.5" dx="0 -0.1 0.4">r/r<tspan font-size="32.4" dy="12.2" dx="0.1">g</tspan></text>
<text transform="translate(45,537.5) rotate(-90) scale(1,1.05)" font-size="38.2" dx="0">Free nucleon fraction X<tspan font-size="30.5" dy="11" dx="0">f</tspan></text>
<rect x="107.24" y="105.08" width="7.14" height="5.42" fill="#fff" stroke="none"/>
<rect x="117.86" y="105.08" width="7.10" height="5.42" fill="#fff" stroke="none"/>
<rect x="143.15" y="672.68" width="7.14" height="5.42" fill="#fff" stroke="none"/>
<rect x="153.77" y="672.68" width="7.10" height="5.42" fill="#fff" stroke="none"/>
<rect x="364.60" y="672.68" width="7.14" height="5.42" fill="#fff" stroke="none"/>
<rect x="375.23" y="672.68" width="7.10" height="5.42" fill="#fff" stroke="none"/>
<rect x="586.06" y="672.68" width="7.14" height="5.42" fill="#fff" stroke="none"/>
<rect x="596.69" y="672.68" width="7.10" height="5.42" fill="#fff" stroke="none"/>
<rect x="807.51" y="672.68" width="7.14" height="5.42" fill="#fff" stroke="none"/>
<rect x="818.14" y="672.68" width="7.10" height="5.42" fill="#fff" stroke="none"/>
<rect x="656.44" y="85.88" width="7.14" height="5.42" fill="#fff" stroke="none"/>
<rect x="667.06" y="85.88" width="7.10" height="5.42" fill="#fff" stroke="none"/>
<rect x="656.44" y="157.18" width="7.14" height="5.42" fill="#fff" stroke="none"/>
<rect x="667.06" y="157.18" width="7.10" height="5.42" fill="#fff" stroke="none"/>
</g>
</svg></body></html>
